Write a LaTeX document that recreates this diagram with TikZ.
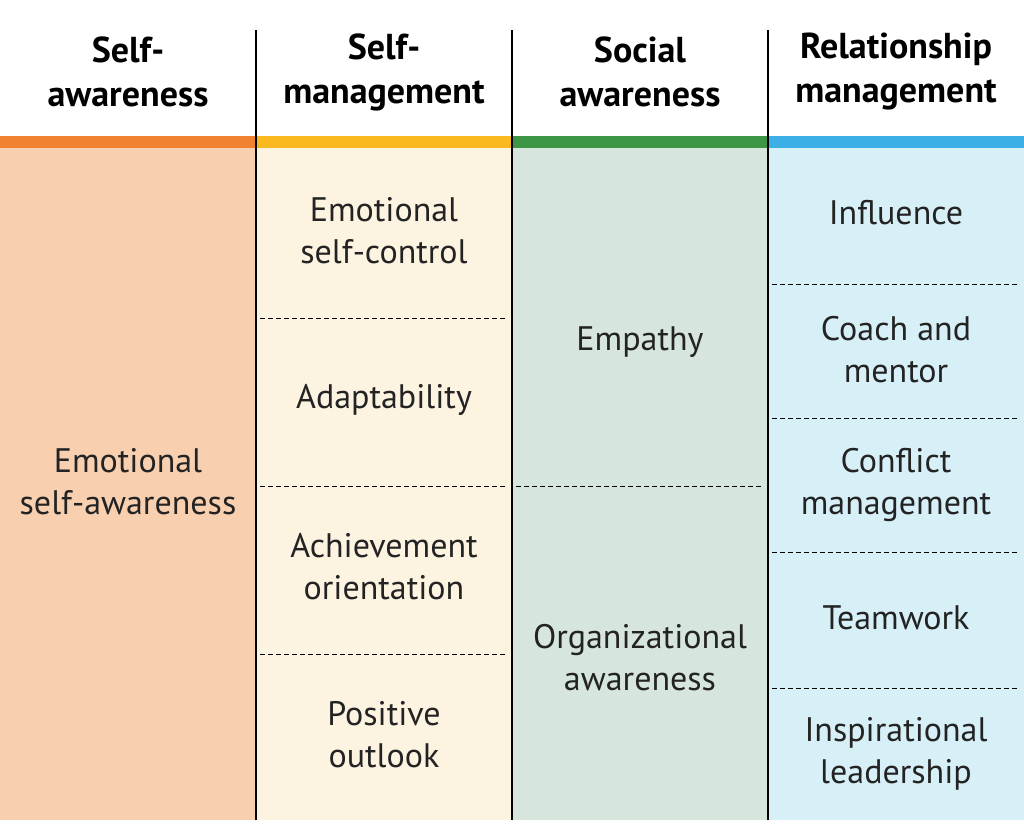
\documentclass[tikz,border=0pt]{standalone}
\usepackage{fontspec}
\setmainfont{PT Sans}
\usetikzlibrary{positioning}
\definecolor{bar_orange}{RGB}{240,130,50}
\definecolor{fill_orange}{RGB}{248,208,176}
\definecolor{bar_yellow}{RGB}{250,185,30}
\definecolor{fill_yellow}{RGB}{253,243,225}
\definecolor{bar_green}{RGB}{60,150,70}
\definecolor{fill_green}{RGB}{215,230,220}
\definecolor{bar_blue}{RGB}{60,175,230}
\definecolor{fill_blue}{RGB}{215,240,248}
\definecolor{text_gray}{RGB}{35,35,35}
\begin{document}
\begin{tikzpicture}[x=1pt,y=-1pt]
    \tikzstyle{head}=[text=black, align=center, font=\fontsize{36}{44}\selectfont\bfseries]
    \tikzstyle{cell}=[text=text_gray, align=center, font=\fontsize{34}{42}\selectfont]
    \tikzstyle{sep}=[black, semithick, dashed, dash pattern=on 5pt off 3pt]
    \tikzstyle{col}=[black, line width=1.3pt]

    \useasboundingbox (0,0) rectangle (1024,832);
    % columns
    \fill[fill_orange] (0,148) rectangle (256,820);
    \fill[fill_yellow] (256,148) rectangle (512,820);
    \fill[fill_green]  (512,148) rectangle (768,820);
    \fill[fill_blue]   (768,148) rectangle (1024,820);
    \fill[bar_orange] (0,136) rectangle (256,148);
    \fill[bar_yellow] (256,136) rectangle (512,148);
    \fill[bar_green]  (512,136) rectangle (768,148);
    \fill[bar_blue]   (768,136) rectangle (1024,148);
    \foreach \x in {256,512,768}
      \draw[col] (\x,30) -- (\x,820);
    % dashed separators
    \foreach \y in {318,486,654}
      \draw[sep] (260,\y) -- (505,\y);
    \draw[sep] (516,486) -- (762,486);
    \foreach \y in {284,418,552,688}
      \draw[sep] (772,\y) -- (1018,\y);

    % headers
    \node[head] (h1) at (128,72) {Self-\\awareness};
    \node[head] (h2) at (384,72) {Self-\\management};
    \node[head] (h3) at (640,72) {Social\\awareness};
    \node[head] (h4) at (896,72) {Relationship\\management};

    % cells
    \node[cell] (esa) at (128,482) {Emotional\\self-awareness};
    \node[cell] (esc) at (384,231) {Emotional\\self-control};
    \node[cell] (ada) at (384,400) {Adaptability};
    \node[cell] (ach) at (384,567) {Achievement\\orientation};
    \node[cell] (pos) at (384,735) {Positive\\outlook};
    \node[cell] (emp) at (640,342) {Empathy};
    \node[cell] (org) at (640,658) {Organizational\\awareness};
    \node[cell] (inf) at (896,213) {Influence};
    \node[cell] (coa) at (896,350) {Coach and\\mentor};
    \node[cell] (con) at (896,485) {Conflict\\management};
    \node[cell] (tea) at (896,618) {Teamwork};
    \node[cell] (ins) at (896,754) {Inspirational\\leadership};
\end{tikzpicture}
\end{document}
